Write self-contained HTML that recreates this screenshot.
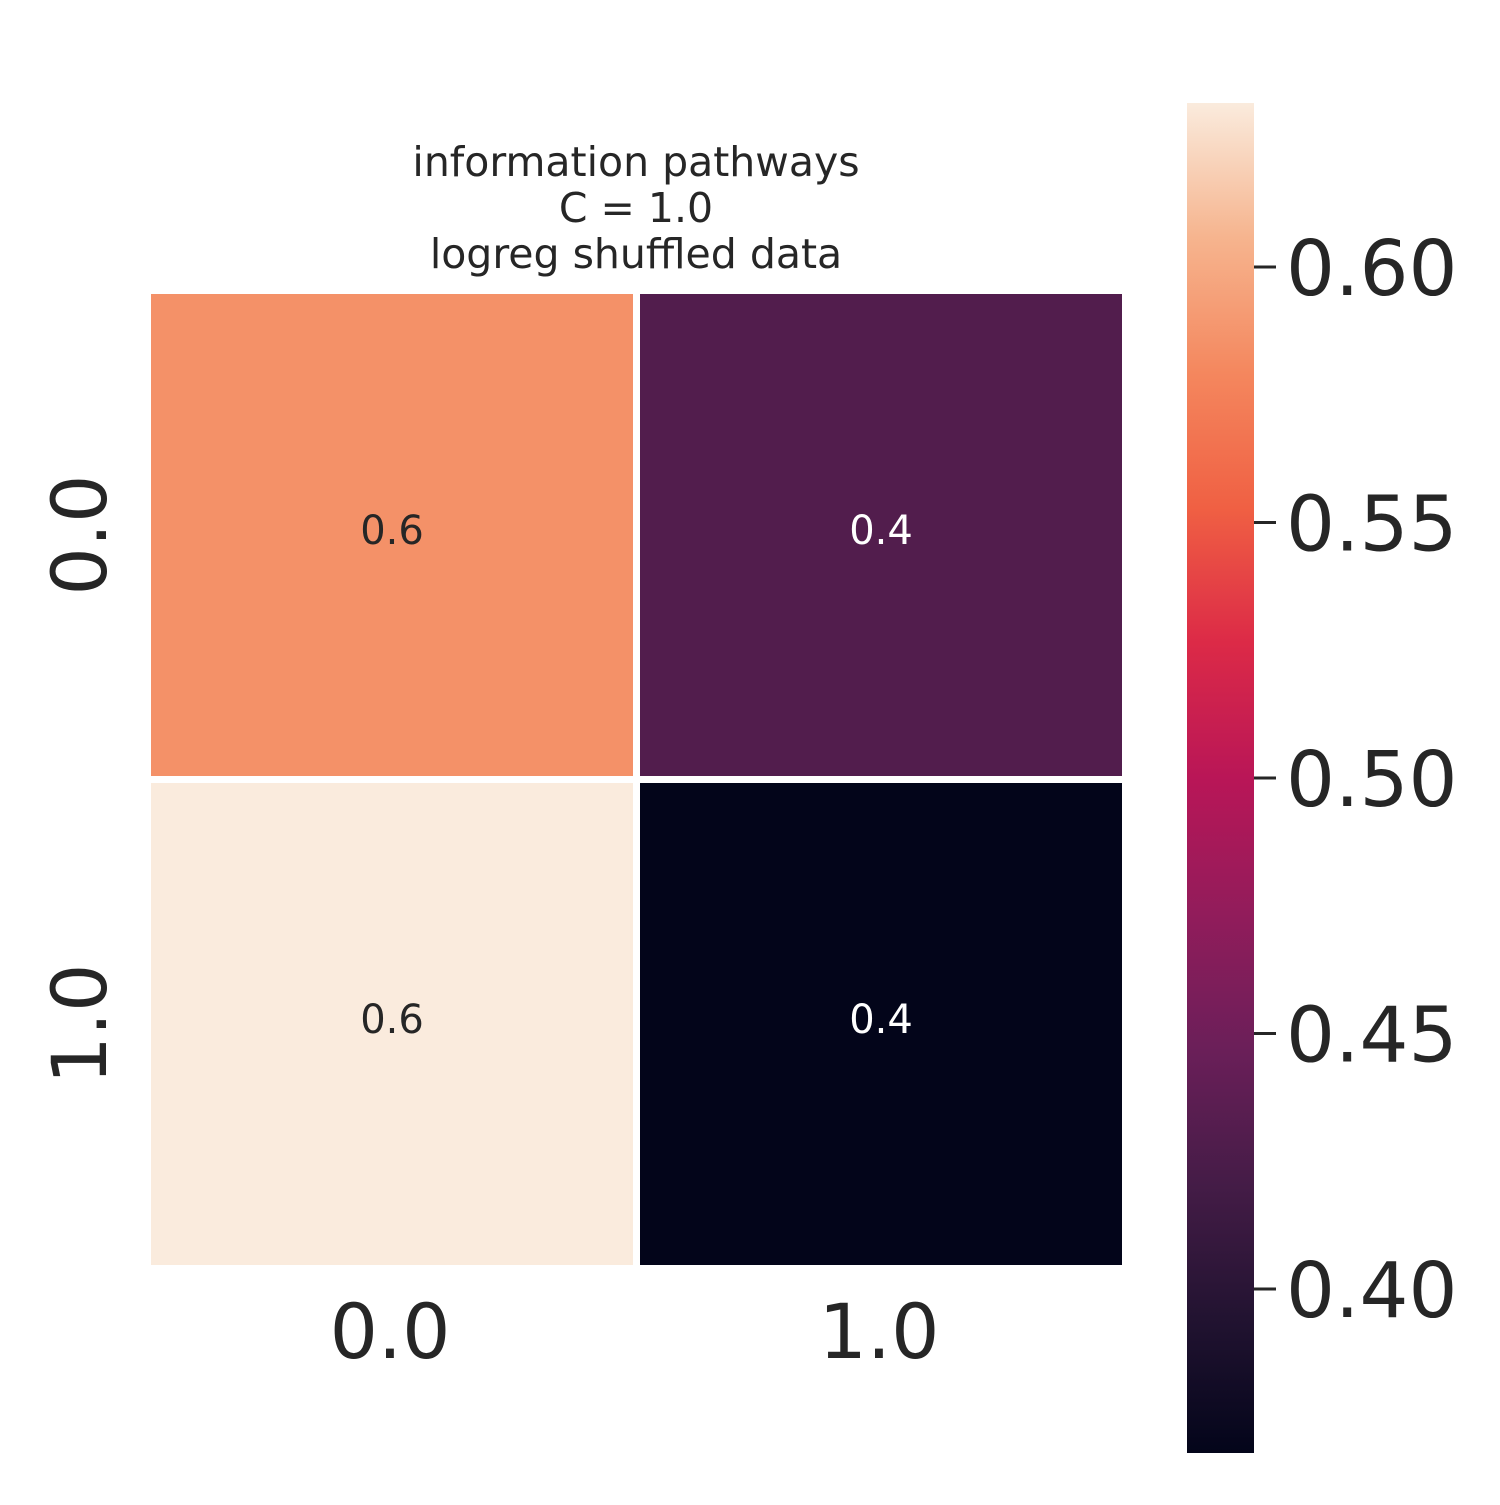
<!DOCTYPE html>
<html><head><meta charset="utf-8"><style>
body{margin:0;background:#fff}
svg text{font-family:"DejaVu Sans","Liberation Sans",sans-serif;fill:#262626}
</style></head><body>
<svg xmlns="http://www.w3.org/2000/svg" width="1500" height="1500" viewBox="0 0 1500 1500">
<defs>
<linearGradient id="rocket" x1="0" y1="1" x2="0" y2="0">
<stop offset="0" stop-color="#03051a"/><stop offset="0.1" stop-color="#221331"/>
<stop offset="0.2" stop-color="#451c47"/><stop offset="0.3" stop-color="#6b1f59"/>
<stop offset="0.4" stop-color="#921c5b"/><stop offset="0.5" stop-color="#b91657"/>
<stop offset="0.6" stop-color="#dc2a47"/><stop offset="0.7" stop-color="#f06043"/>
<stop offset="0.8" stop-color="#f4875e"/><stop offset="0.9" stop-color="#f6b48e"/>
<stop offset="1" stop-color="#faebdd"/>
</linearGradient>
</defs>
<g>
<text x="636" y="176" font-size="41" text-anchor="middle">information pathways</text>
<text x="636" y="222" font-size="41" text-anchor="middle">C = 1.0</text>
<text x="636" y="268" font-size="41" text-anchor="middle">logreg shuffled data</text>
</g>
<g id="cells"></g>
<g id="xticks"></g>
<g id="yticks"></g>
<rect x="1187" y="103" width="67" height="1350" fill="url(#rocket)"/>
<g id="cbticks"></g>
</svg>
<script>
const rows = ["0.0","1.0"];
const cols = ["0.0","1.0"];
const values = [[0.585,0.43],[0.632,0.368]];
const labels = [["0.6","0.4"],["0.6","0.4"]];
const cbTicks = [0.40,0.45,0.50,0.55,0.60];
const vmin=0.3679, vmax=0.6321;
const stops=[[0,"#03051a"],[0.1,"#221331"],[0.2,"#451c47"],[0.3,"#6b1f59"],[0.4,"#921c5b"],[0.5,"#b91657"],[0.6,"#dc2a47"],[0.7,"#f06043"],[0.8,"#f4875e"],[0.9,"#f6b48e"],[1,"#faebdd"]];
function hex(h){return [1,3,5].map(i=>parseInt(h.substr(i,2),16));}
function cmap(v){let t=Math.max(0,Math.min(1,(v-vmin)/(vmax-vmin)));
 for(let i=0;i<stops.length-1;i++){if(t<=stops[i+1][0]){const a=hex(stops[i][1]),b=hex(stops[i+1][1]);const f=(t-stops[i][0])/(stops[i+1][0]-stops[i][0]);
 return {c:`rgb(${a.map((x,k)=>Math.round(x+(b[k]-x)*f)).join(',')})`,t};}}return {c:stops[10][1],t};}
const X0=147.5,Y0=290.5,S=489,G=3.5;
const xs=i=>X0+i*S, ys=j=>Y0+j*S;
const cbY=v=>1453-(v-vmin)/(vmax-vmin)*1350;
const NS="http://www.w3.org/2000/svg";
function el(tag,attrs,parent,txt){const e=document.createElementNS(NS,tag);for(const k in attrs)e.setAttribute(k,attrs[k]);if(txt!==undefined)e.textContent=txt;parent.appendChild(e);return e;}
const cg=document.getElementById('cells');
rows.forEach((r,j)=>cols.forEach((c,i)=>{
 const m=cmap(values[j][i]);
 const rc=el('rect',{x:xs(i)+G,y:ys(j)+G,width:S-2*G,height:S-2*G,fill:m.c},cg);
 
 
 const tx=el('text',{x:xs(i)+S/2,y:ys(j)+S/2+9,'font-size':40,'text-anchor':'middle',style:'fill:'+(m.t>0.5?'#262626':'#ffffff')},cg,labels[j][i]);
 
 
}));
const xg=document.getElementById('xticks');
cols.forEach((c,i)=>{const t=el('text',{x:xs(i)+S/2-2,y:1358,'font-size':76,'text-anchor':'middle'},xg,c);
 
 });
const yg=document.getElementById('yticks');
rows.forEach((r,j)=>{const cy=ys(j)+S/2;const t=el('text',{x:106,y:cy,'font-size':76,'text-anchor':'middle',transform:`rotate(-90 106 ${cy})`},yg,r);
 
 });
const bg=document.getElementById('cbticks');
cbTicks.forEach(v=>{const y=cbY(v);
 const l=el('line',{x1:1254,x2:1276,y1:y,y2:y,stroke:'#262626','stroke-width':3},bg);
 
 
 const t=el('text',{x:1286,y:y+28,'font-size':77},bg,v.toFixed(2));
 
 });
</script>
</body></html>
